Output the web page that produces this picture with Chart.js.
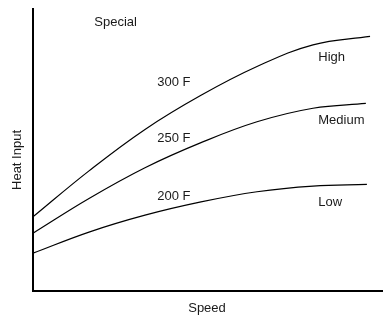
<!DOCTYPE html>
<html>
<head>
<meta charset="utf-8">
<script src="https://cdn.jsdelivr.net/npm/chart.js@4/dist/chart.umd.min.js"></script>
<style>
  body{margin:0;background:#fff;}
  #wrap{width:383px;height:315px;position:relative;}
</style>
</head>
<body>
<div id="wrap"><canvas id="myChart"></canvas></div>
<script>
   // curve values (speed 0-100, heat input 0-100)
   var highX=[0,16,32,48,64,80,96.3];
   var highY=[26.3,42.6,57.3,69.4,79.6,87.3,90.3];
   var medX=[0,16,32,48,64,80,95.1];
   var medY=[20.5,32.8,43.7,52.6,60,64.8,66.5];
   var lowX=[0,16,32,48,64,80,95.4];
   var lowY=[13.4,20.9,26.9,31.6,35.2,37.2,37.8];

   // text labels, anchored in data units
   var noteText=['Special','300 F','250 F','200 F','High','Medium','Low'];
   var noteX=[17.5,35.5,35.5,35.5,81.5,81.5,81.5];
   var noteY=[95.3,74,54.2,33.7,82.8,60.6,31.5];

   var xTitle='Speed';
   var yTitle='Heat Input';

   function pts(xs,ys){
      var out=[];
      for(var i=0;i<xs.length;i++){ out.push({x:xs[i],y:ys[i]}); }
      return out;
   }

   var fontName='"Liberation Sans", Arial, sans-serif';

   var notes={
      id:'notes',
      afterDraw:function(chart){
         var c=chart.ctx, xs=chart.scales.x, ys=chart.scales.y, a=chart.chartArea;
         c.save();
         c.fillStyle='#1a1a1a';
         c.font='13px '+fontName;
         c.textAlign='left';
         c.textBaseline='middle';
         for(var i=0;i<noteText.length;i++){
            c.fillText(noteText[i],xs.getPixelForValue(noteX[i]),ys.getPixelForValue(noteY[i]));
         }
         c.textAlign='center';
         c.fillText(xTitle,(a.left+a.right)/2-1,a.bottom+17);
         c.translate(a.left-16,(a.top+a.bottom)/2+10);
         c.rotate(-Math.PI/2);
         c.fillText(yTitle,0,0);
         c.restore();
      }
   };

   function ds(xs,ys){
      return {data:pts(xs,ys),borderColor:'#000',borderWidth:1.2,pointRadius:0,
              tension:0.4,fill:false};
   }

   var ctx=document.getElementById('myChart');
   var myChart=new Chart(ctx,{
      type:'line',
      data:{datasets:[ds(highX,highY),ds(medX,medY),ds(lowX,lowY)]},
      options:{
         responsive:true,
         maintainAspectRatio:false,
         animation:false,
         layout:{padding:{left:25,top:9,right:0,bottom:16}},
         plugins:{legend:{display:false},tooltip:{enabled:false}},
         scales:{
            x:{type:'linear',min:0,max:100,
               grid:{display:false},ticks:{display:false},
               border:{display:true,color:'#000',width:2}},
            y:{type:'linear',min:0,max:100,
               grid:{display:false},ticks:{display:false},
               border:{display:true,color:'#000',width:2}}
         }
      },
      plugins:[notes]
   });
</script>
</body>
</html>
